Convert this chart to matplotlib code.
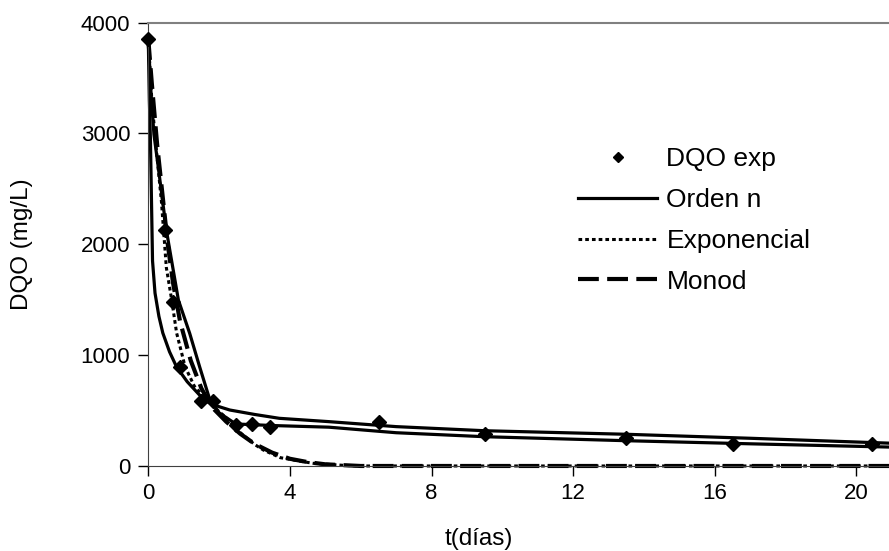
import matplotlib.pyplot as plt

plt.rcParams['font.family'] = ['Liberation Sans', 'DejaVu Sans']

# experimental points
t_exp = [0, 0.47, 0.70, 0.89, 1.49, 1.82, 2.48, 2.92, 3.44, 6.53, 9.51, 13.5, 16.5, 20.45]
dqo_exp = [3850, 2130, 1480, 890, 590, 590, 370, 375, 355, 400, 286, 255, 200, 195]

# model curves
t_orden1 = [0, 0.03, 0.06, 0.09, 0.12, 0.19, 0.3, 0.41, 0.6, 0.8, 1.1, 1.5, 1.8, 2.3, 3.0, 3.7, 5.1, 7.0, 9.5, 13.5, 17.0, 21.0]
c_orden1 = [3850, 3300, 2950, 2400, 1850, 1560, 1350, 1200, 1030, 893, 760, 622, 555, 505, 465, 430, 400, 355, 318, 286, 250, 205]

t_orden2 = [0, 0.08, 0.16, 0.28, 0.51, 0.85, 1.17, 1.45, 1.74, 2.0, 2.47, 3.5, 5.1, 7.0, 9.5, 13.5, 17.0, 21.0]
c_orden2 = [3850, 3350, 2990, 2700, 2128, 1497, 1196, 895, 595, 480, 379, 365, 350, 300, 264, 228, 200, 170]

t_expo = [0, 0.1, 0.24, 0.37, 0.51, 0.66, 0.8, 1.04, 1.3, 1.65, 2.0, 2.2, 2.6, 3.0, 3.25, 3.73, 4.37, 4.66, 5.55, 6.0, 21.0]
c_expo = [3850, 3300, 2810, 2390, 1790, 1500, 1200, 895, 720, 595, 490, 436, 300, 195, 144, 75, 39, 24, 5, 0, 0]

t_monod = [0, 0.1, 0.25, 0.4, 0.55, 0.7, 0.9, 1.2, 1.5, 1.8, 2.2, 2.6, 3.0, 3.5, 4.0, 4.5, 5.0, 6.0, 21.0]
c_monod = [3850, 3450, 2900, 2450, 2000, 1650, 1300, 950, 700, 530, 400, 290, 200, 120, 65, 35, 15, 0, 0]

fig = plt.figure(figsize=(8.89, 5.51), dpi=100)
ax = fig.add_axes([0.1668, 0.1543, 0.8332, 0.8048])

ax.plot(t_orden1, c_orden1, color='black', lw=2.3, label='Orden n', clip_on=False)
ax.plot(t_orden2, c_orden2, color='black', lw=2.3, clip_on=False)
ax.plot(t_expo, c_expo, color='black', lw=2.2, linestyle=(0, (1.2, 1.0)), label='Exponencial', clip_on=False)
ax.plot(t_monod, c_monod, color='black', lw=3.0, linestyle=(0, (5, 2)), label='Monod', clip_on=False)
ax.plot(t_exp, dqo_exp, 'D', color='black', markersize=7.5, linestyle='none', label='DQO exp', clip_on=False, zorder=5)

ax.set_xlim(0, 20.92)
ax.set_ylim(0, 4000)
ax.set_xticks([0, 4, 8, 12, 16, 20])
ax.set_yticks([0, 1000, 2000, 3000, 4000])
ax.tick_params(direction='out', length=7, width=1, labelsize=16, colors='black')
ax.tick_params(axis='x', pad=5)
ax.tick_params(axis='y', pad=6)

ax.spines['right'].set_visible(False)
ax.spines['top'].set_color('#808080')
ax.spines['top'].set_linewidth(1.5)
ax.spines['left'].set_color('#404040')
ax.spines['bottom'].set_color('#404040')

ax.set_xlabel('t(días)', fontsize=17.5)
ax.xaxis.set_label_coords(0.446, -0.14)
ax.set_ylabel('DQO (mg/L)', fontsize=17.5)
ax.yaxis.set_label_coords(-0.155, 0.5)

handles, labels = ax.get_legend_handles_labels()
order = [3, 0, 1, 2]
leg = ax.legend([handles[i] for i in order], [labels[i] for i in order],
                frameon=False, fontsize=19, handlelength=3.0, handletextpad=0.35,
                labelspacing=0.64, markerscale=0.65, borderpad=0, borderaxespad=0,
                loc='upper left', bbox_to_anchor=(578 / 889, 1 - 147 / 551),
                bbox_transform=fig.transFigure)

fig.savefig('out.png', dpi=100)
